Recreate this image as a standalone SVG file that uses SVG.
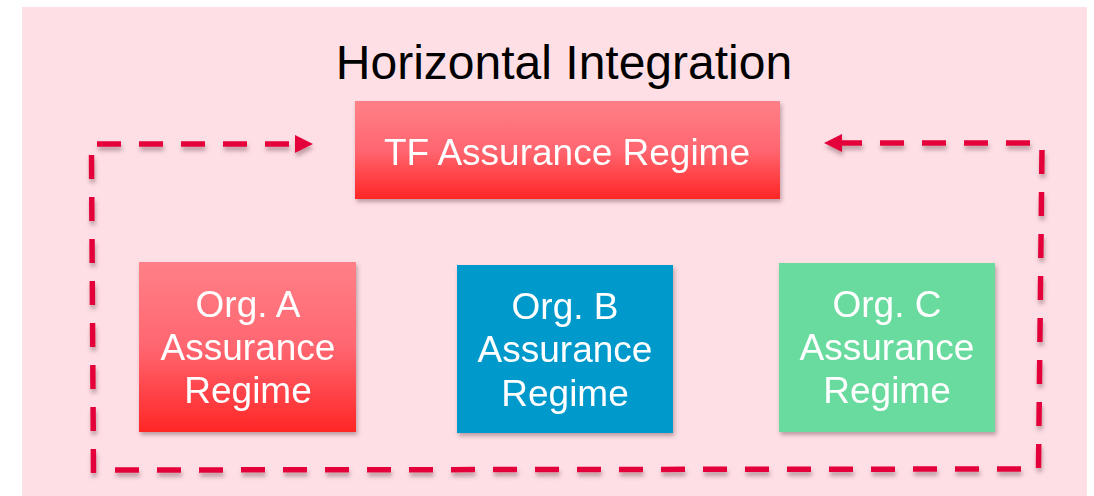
<svg xmlns="http://www.w3.org/2000/svg" width="1094" height="496" viewBox="0 0 1094 496">
  <defs>
    <linearGradient id="redGrad" x1="0" y1="0" x2="0" y2="1">
      <stop offset="0" stop-color="#FF8088"/>
      <stop offset="0.5" stop-color="#FF6670"/>
      <stop offset="1" stop-color="#FF2626"/>
    </linearGradient>
    <filter id="boxShadow" x="-10%" y="-10%" width="125%" height="130%">
      <feDropShadow dx="1.5" dy="3" stdDeviation="2" flood-color="#5a3a40" flood-opacity="0.4"/>
    </filter>
    <filter id="lineShadow" x="-5%" y="-5%" width="110%" height="115%">
      <feDropShadow dx="1" dy="4" stdDeviation="2" flood-color="#6a4a50" flood-opacity="0.45"/>
    </filter>
    <marker id="arrow" markerUnits="userSpaceOnUse" markerWidth="20" markerHeight="20" viewBox="0 -10 20 20" refX="0" refY="0" orient="auto">
      <polygon points="0,-9 18,0 0,9" fill="#E4003B"/>
    </marker>
    <style>
      .label { font-family: "Liberation Sans", Arial, sans-serif; fill: #FFFFFF; text-anchor: middle; }
      .dash { fill: none; stroke: #E4003B; stroke-width: 5.5; stroke-dasharray: 24 18; stroke-linecap: butt; }
    </style>
  </defs>

  <!-- backdrop panel -->
  <rect x="22" y="7" width="1065" height="489" fill="#FFDFE6"/>

  <text x="564" y="79" font-family="'Liberation Sans', Arial, sans-serif" font-size="48" fill="#000000" text-anchor="middle">Horizontal Integration</text>

  <!-- dashed loop linking the organisations to the TF regime -->
  <g id="connectors" filter="url(#lineShadow)">
    <path class="dash" d="M97,144 H295" marker-end="url(#arrow)"/>
    <path class="dash" d="M1030,143 H842" marker-end="url(#arrow)"/>
    <path class="dash" d="M91.5,155 L93.5,473"/>
    <path class="dash" d="M115,470 L1021,469"/>
    <path class="dash" d="M1042,150 L1038.5,468"/>
  </g>

  <g id="tf-regime" filter="url(#boxShadow)">
    <rect x="355" y="101" width="425" height="98" fill="url(#redGrad)"/>
    <text class="label" x="567" y="165" font-size="37">TF Assurance Regime</text>
  </g>

  <g id="org-a" filter="url(#boxShadow)">
    <rect x="139" y="262" width="217" height="170" fill="url(#redGrad)"/>
    <text class="label" font-size="37"><tspan x="248" y="317">Org. A</tspan><tspan x="248" y="360">Assurance</tspan><tspan x="248" y="403">Regime</tspan></text>
  </g>

  <g id="org-b" filter="url(#boxShadow)">
    <rect x="457" y="265" width="216" height="168" fill="#0099CC"/>
    <text class="label" font-size="37"><tspan x="565" y="319">Org. B</tspan><tspan x="565" y="362">Assurance</tspan><tspan x="565" y="406">Regime</tspan></text>
  </g>

  <g id="org-c" filter="url(#boxShadow)">
    <rect x="779" y="263" width="216" height="169" fill="#6BDB9F"/>
    <text class="label" font-size="37"><tspan x="887" y="317">Org. C</tspan><tspan x="887" y="360">Assurance</tspan><tspan x="887" y="403">Regime</tspan></text>
  </g>
</svg>
